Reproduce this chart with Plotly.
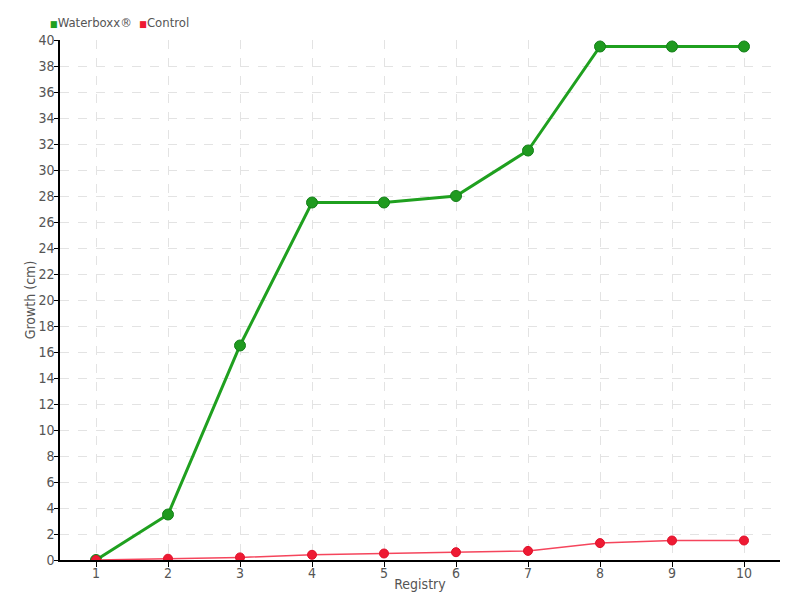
import plotly.graph_objects as go

registry = [1, 2, 3, 4, 5, 6, 7, 8, 9, 10]
waterboxx = [0, 3.5, 16.5, 27.5, 27.5, 28, 31.5, 39.5, 39.5, 39.5]
control = [0, 0.1, 0.2, 0.4, 0.5, 0.6, 0.7, 1.3, 1.5, 1.5]
series_names = ["Waterboxx®", "Control"]
series_colors = ["#1fa01f", "#ee1a33"]

FONT = "DejaVu Sans Condensed, Liberation Sans Narrow, sans-serif"

fig = go.Figure()
fig.add_trace(go.Scatter(
    x=registry, y=waterboxx, name=series_names[0], mode="lines+markers",
    line=dict(color="#1fa01f", width=3),
    marker=dict(color="#1f9a1f", size=11, line=dict(color="#15801a", width=1)),
))
fig.add_trace(go.Scatter(
    x=registry, y=control, name=series_names[1], mode="lines+markers",
    line=dict(color="#f5455c", width=1.5),
    marker=dict(color="#ee1a33", size=9, line=dict(color="#e0102a", width=1)),
))

legend_text = "&nbsp;&nbsp;".join(
    f"<span style='color:{c}; font-size:9px'>■</span>{n}"
    for n, c in zip(series_names, series_colors)
)
fig.add_annotation(
    text=legend_text, xref="paper", yref="paper", x=-0.017, y=1.0,
    xanchor="left", yanchor="bottom", yshift=8, showarrow=False,
    font=dict(family=FONT, size=13, color="#555555"),
)

# page body has an 8px offset, so the figure is 792x592 with shifted margins
fig.update_layout(
    width=792, height=592,
    margin=dict(l=52, r=20, t=32, b=40, autoexpand=False),
    paper_bgcolor="white", plot_bgcolor="white",
    font=dict(family=FONT, size=14, color="#555555"),
    showlegend=False,
    xaxis=dict(
        range=[0.5, 10.5], tickmode="array", tickvals=registry,
        ticktext=[str(v) for v in registry],
        showgrid=True, gridcolor="#e3e3e3", griddash="dash", gridwidth=1,
        showline=True, linecolor="black", linewidth=1.5,
        ticks="outside", ticklen=5, tickcolor="black",
        zeroline=False, automargin=False, ticklabelstandoff=-6,
        title=dict(text="Registry", standoff=0, font=dict(size=14)),
        tickfont=dict(size=14),
    ),
    yaxis=dict(
        range=[0, 40], dtick=2, tick0=0,
        showgrid=True, gridcolor="#e3e3e3", griddash="dash", gridwidth=1,
        showline=True, linecolor="black", linewidth=1.5,
        ticks="outside", ticklen=4, tickcolor="black",
        zeroline=False, automargin=False, ticklabelstandoff=-3,
        title=dict(text="Growth (cm)", standoff=0, font=dict(size=14)),
        tickfont=dict(size=14),
    ),
)

fig.write_html("out.html")
